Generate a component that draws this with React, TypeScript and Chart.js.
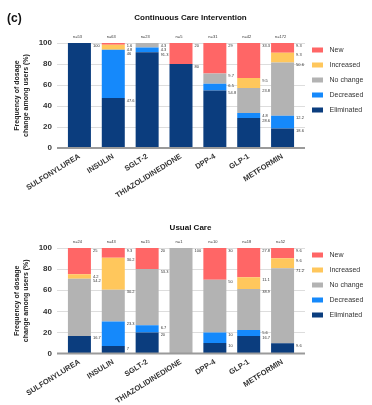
import React, { useEffect, useRef } from 'react';
import { Chart, registerables } from 'chart.js';

Chart.register(...registerables);

// ---------- data ----------
const categories = ['SULFONYLUREA', 'INSULIN', 'SGLT-2', 'THIAZOLIDINEDIONE', 'DPP-4', 'GLP-1', 'METFORMIN'];
const seriesNames = ['Eliminated', 'Decreased', 'No change', 'Increased', 'New'];
const yTicks = [0, 20, 40, 60, 80, 100];

// Continuous Care Intervention
const ccTitle = 'Continuous Care Intervention';
const ccN = [53, 63, 23, 5, 31, 42, 172];
const ccEliminated = [100, 47.6, 91.3, 80, 54.8, 28.6, 18.6];
const ccDecreased = [0, 46, 4.3, 0, 6.5, 4.8, 12.2];
const ccNoChange = [0, 0, 4.3, 0, 9.7, 23.8, 50.6];
const ccIncreased = [0, 4.8, 0, 0, 0, 9.5, 9.3];
const ccNew = [0, 1.6, 0, 20, 29, 33.3, 9.3];

// Usual Care
const ucTitle = 'Usual Care';
const ucN = [24, 43, 15, 1, 10, 18, 52];
const ucEliminated = [16.7, 7, 20, 0, 10, 16.7, 9.6];
const ucDecreased = [0, 23.3, 6.7, 0, 10, 5.6, 0];
const ucNoChange = [54.2, 30.2, 53.3, 100, 50, 38.9, 71.2];
const ucIncreased = [4.2, 30.2, 0, 0, 0, 11.1, 9.6];
const ucNew = [25, 9.3, 20, 0, 30, 27.8, 9.6];

// ---------- styles ----------
const seriesColors = ['#0b3d7e', '#1589fb', '#b3b3b3', '#ffc75c', '#ff6666'];
const FONT = '"Liberation Sans", Arial, Helvetica, sans-serif';
const W = 372;
const PLOT_LEFT = 62.5;
const PLOT_RIGHT = 299.5;
const EXT = 5.5;

type Spec = {
  title: string;
  nValues: number[];
  series: number[][];
  height: number;
  plotTop: number;
  plotBottom: number;
  titleY: number;
  panelLabel?: string;
};

function overlayPlugin(spec: Spec) {
  return {
    id: 'overlay',
    beforeDatasetsDraw(chart: any) {
      const { ctx, chartArea, scales } = chart;
      const y = scales.y;
      ctx.save();
      ctx.strokeStyle = '#dddddd';
      ctx.lineWidth = 1;
      for (const t of yTicks) {
        if (t === 0) continue;
        const py = Math.round(y.getPixelForValue(t)) + 0.5;
        ctx.beginPath();
        ctx.moveTo(chartArea.left - EXT, py);
        ctx.lineTo(chartArea.right + EXT, py);
        ctx.stroke();
      }
      ctx.restore();
    },
    afterDatasetsDraw(chart: any) {
      const { ctx, chartArea, scales } = chart;
      const y = scales.y;
      ctx.save();
      // baseline axis
      ctx.strokeStyle = '#9a9a9a';
      ctx.lineWidth = 2;
      const y0 = y.getPixelForValue(0);
      ctx.beginPath();
      ctx.moveTo(chartArea.left - EXT, y0);
      ctx.lineTo(chartArea.right + EXT, y0);
      ctx.stroke();

      // value labels
      ctx.font = `4px ${FONT}`;
      ctx.fillStyle = '#333';
      ctx.textAlign = 'left';
      ctx.textBaseline = 'middle';
      const nCat = categories.length;
      for (let i = 0; i < nCat; i++) {
        let prev = -Infinity;
        for (let d = spec.series.length - 1; d >= 0; d--) {
          const v = spec.series[d][i];
          if (!v) continue;
          const el = chart.getDatasetMeta(d).data[i];
          const top = Math.min(el.y, el.base);
          const right = el.x + el.width / 2;
          const ly = Math.max(top + 2.5, prev + 4);
          ctx.fillText(String(v), right + 2, ly);
          prev = ly;
        }
        // n labels
        const el0 = chart.getDatasetMeta(0).data[i];
        ctx.textAlign = 'center';
        ctx.fillText('n=' + spec.nValues[i], el0.x - 2, chartArea.top - 6);
        ctx.textAlign = 'left';
      }

      // legend
      ctx.font = `7px ${FONT}`;
      ctx.textBaseline = 'middle';
      for (let k = 0; k < seriesNames.length; k++) {
        const idx = seriesNames.length - 1 - k;
        const cy = chartArea.top + 7 + k * 15;
        ctx.fillStyle = seriesColors[idx];
        ctx.fillRect(chartArea.right + 12.5, cy - 2.5, 11, 5);
        ctx.fillStyle = '#333';
        ctx.fillText(seriesNames[idx], chartArea.right + 30, cy);
      }

      // title
      ctx.font = `bold 8px ${FONT}`;
      ctx.fillStyle = '#111';
      ctx.textAlign = 'center';
      ctx.fillText(spec.title, 190.5, spec.titleY);

      // panel label
      if (spec.panelLabel) {
        ctx.font = `bold 12px ${FONT}`;
        ctx.textAlign = 'left';
        ctx.fillText(spec.panelLabel, 7, 19);
      }

      // y axis title
      const cy = (chartArea.top + chartArea.bottom) / 2;
      ctx.font = `bold 7px ${FONT}`;
      ctx.fillStyle = '#222';
      ctx.textAlign = 'center';
      ctx.translate(17, cy);
      ctx.rotate(-Math.PI / 2);
      ctx.fillText('Frequency of dosage', 0, 0);
      ctx.restore();
      ctx.save();
      ctx.font = `bold 7px ${FONT}`;
      ctx.fillStyle = '#222';
      ctx.textAlign = 'center';
      ctx.textBaseline = 'middle';
      ctx.translate(26, cy);
      ctx.rotate(-Math.PI / 2);
      ctx.fillText('change among users (%)', 0, 0);
      ctx.restore();
    },
  };
}

function buildChart(canvas: HTMLCanvasElement, spec: Spec) {
  const catWidth = (PLOT_RIGHT - PLOT_LEFT) / categories.length;
  return new Chart(canvas, {
    type: 'bar',
    data: {
      labels: categories,
      datasets: seriesNames.map((name, d) => ({
        label: name,
        data: spec.series[d],
        backgroundColor: seriesColors[d],
        borderWidth: 0,
        barPercentage: 23 / catWidth,
        categoryPercentage: 1,
      })),
    },
    options: {
      responsive: false,
      animation: false,
      devicePixelRatio: 1,
      layout: { padding: { left: 0, right: W - PLOT_RIGHT, top: spec.plotTop, bottom: 0 } },
      plugins: { legend: { display: false }, tooltip: { enabled: false }, title: { display: false } },
      scales: {
        x: {
          stacked: true,
          grid: { display: false, drawTicks: false },
          border: { display: false },
          ticks: {
            autoSkip: false,
            maxRotation: 32,
            minRotation: 32,
            padding: 4,
            color: '#333',
            font: { family: FONT, size: 7.5, weight: 'bold' },
          },
          afterFit: (s: any) => {
            s.height = spec.height - spec.plotBottom;
          },
        },
        y: {
          stacked: true,
          min: 0,
          max: 100,
          grid: { display: false, drawTicks: false },
          border: { display: false },
          ticks: {
            stepSize: 20,
            padding: 10.5,
            color: '#333',
            font: { family: FONT, size: 8, weight: 'bold' },
          },
          afterFit: (s: any) => {
            s.width = PLOT_LEFT;
          },
        },
      },
    },
    plugins: [overlayPlugin(spec)],
  } as any);
}

export default function App() {
  const topRef = useRef<HTMLCanvasElement>(null);
  const botRef = useRef<HTMLCanvasElement>(null);

  useEffect(() => {
    document.body.style.margin = '0';
    const topSpec: Spec = {
      title: ccTitle,
      nValues: ccN,
      series: [ccEliminated, ccDecreased, ccNoChange, ccIncreased, ccNew],
      height: 200,
      plotTop: 43,
      plotBottom: 148,
      titleY: 18,
      panelLabel: '(c)',
    };
    const botSpec: Spec = {
      title: ucTitle,
      nValues: ucN,
      series: [ucEliminated, ucDecreased, ucNoChange, ucIncreased, ucNew],
      height: 205,
      plotTop: 48,
      plotBottom: 153.5,
      titleY: 28,
    };
    const c1 = buildChart(topRef.current!, topSpec);
    const c2 = buildChart(botRef.current!, botSpec);
    return () => {
      c1.destroy();
      c2.destroy();
    };
  }, []);

  return (
    <div style={{ position: 'relative', width: W, height: 405, background: '#fff' }}>
      <canvas ref={topRef} width={W} height={200} style={{ position: 'absolute', left: 0, top: 0 }} />
      <canvas ref={botRef} width={W} height={205} style={{ position: 'absolute', left: 0, top: 200 }} />
    </div>
  );
}
